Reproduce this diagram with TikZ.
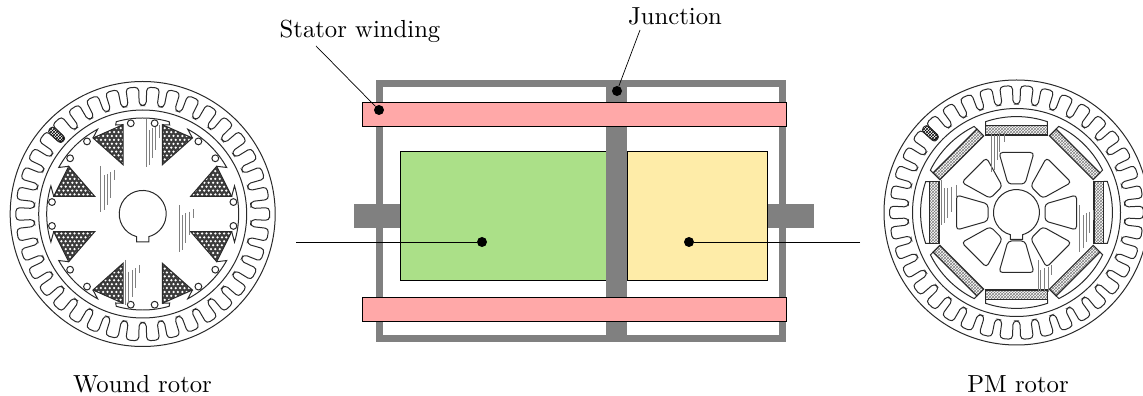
\documentclass[tikz,border=0pt]{standalone}
\usetikzlibrary{patterns}
\definecolor{framegray}{HTML}{808080}
\definecolor{windpink}{HTML}{FFA8A8}
\definecolor{woundgreen}{HTML}{ABE088}
\definecolor{pmyellow}{HTML}{FEECA8}
\definecolor{ink}{HTML}{2A2A2A}
\definecolor{copper}{HTML}{3C3C3C}
\tikzset{
  lbl/.style={scale=2.47,inner sep=0pt},
  bar/.style={fill=framegray,draw=none},
  boxed/.style={draw=black,line width=0.7pt},
  leader/.style={draw=black,line width=0.7pt},
  dotmark/.style={circle,fill=black,inner sep=0pt,minimum size=10pt},
  art/.style={draw=ink,line width=1pt},
  hatchline/.style={draw=gray,line width=1pt},
}
% stator ring shared by both rotors
\newcommand{\statorring}{%
  \draw[art] (0,0) circle (132.5);
  \draw[art] (0,0) circle (104);
  \draw[art,rounded corners=3.8pt] (-2.9:127)
    \foreach \k in {0,...,37}{
      -- ({\k*360/38+2.9}:127) -- ({\k*360/38+2.9}:108.5)
      -- ({(\k+1)*360/38-2.9}:108.5) -- ({(\k+1)*360/38-2.9}:127)
    } -- cycle;
  \begin{scope}[rotate=137.4]
    \draw[art,fill=gray!60,pattern=crosshatch,pattern color=black,rounded corners=3pt]
      (108,-3.8) rectangle (126,3.8);
  \end{scope}
}
\newcommand{\hatchgroup}[1]{%
  \foreach \hx/\hya/\hyb in {#1}{\draw[hatchline] (\hx,\hya) -- (\hx,\hyb);}
}
\begin{document}
\begin{tikzpicture}[x=1pt,y=1pt]
\useasboundingbox (0,0) rectangle (1143,396);
% ---------- centre machine (y = 396 - pixel row)
\fill[bar] (375.5,54) rectangle (786,316);
\fill[white] (382.5,61) rectangle (606,309);
\fill[white] (627,61) rectangle (779,309);
\fill[bar] (354,168) rectangle (401,192);
\fill[bar] (767,168) rectangle (814,192);
\draw[boxed,fill=woundgreen] (400.5,116) rectangle (606,244.5);
\draw[boxed,fill=pmyellow] (627,116) rectangle (767,244.5);
\fill[bar] (605.7,54) rectangle (627.4,316);
\draw[boxed,fill=windpink] (362.7,270) rectangle (786,293.5);
\draw[boxed,fill=windpink] (362.7,75) rectangle (786,99);
% ---------- labels and leaders
\node[lbl] (statorlabel) at (360,365) {Stator winding};
\node[lbl] (junctionlabel) at (675,380) {Junction};
\node[lbl] (woundlabel) at (142.5,11.5) {Wound rotor};
\node[lbl] (pmlabel) at (1018,11.5) {PM rotor};
\node[dotmark] (dstator) at (379,286) {};
\node[dotmark] (djunction) at (617,305) {};
\node[dotmark] (dwound) at (482,154) {};
\node[dotmark] (dpm) at (689,154) {};
\coordinate (fstator) at (316,350);
\coordinate (fjunction) at (640,366);
\coordinate (fwound) at (296,154);
\coordinate (fpm) at (860,154);
\draw[leader] (fstator) -- (dstator);
\draw[leader] (fjunction) -- (djunction);
\draw[leader] (fwound) -- (dwound);
\draw[leader] (fpm) -- (dpm);
% ---------- wound rotor
\begin{scope}[shift={(142.7,182)}]
  \statorring
  % winding slots: dark fill with a grid of small white dots
  \begin{scope}
    \clip \foreach \sx/\sy in {1/1,-1/1,1/-1,-1/-1}{
      (\sx*19.7,\sy*89.3) -- (\sx*49.7,\sy*76) -- (\sx*19.7,\sy*49.3) -- cycle
      (\sx*74,\sy*47.7) -- (\sx*89,\sy*17.7) -- (\sx*48,\sy*17.7) -- cycle
    };
    \fill[copper] (-100,-100) rectangle (100,100);
    \fill[white] \foreach \i in {-22,...,22}{\foreach \j in {-24,...,24}{
      ({(\i+0.5*mod(abs(\j),2))*4.4},{\j*3.9}) circle (1.25)}};
  \end{scope}
  \foreach \sx/\sy in {1/1,-1/1,1/-1,-1/-1}{
    \begin{scope}[xscale=\sx,yscale=\sy]
      \draw[art] (19.7,89.3) -- (49.7,76) -- (19.7,49.3) -- cycle;
      \draw[art] (74,47.7) -- (89,17.7) -- (48,17.7) -- cycle;
      \draw[art] (90:96) arc (90:74:96) -- (27,89) -- (19.7,89.3);
      \draw[art] (49.7,76) -- (62:96) arc (62:29:96) -- (74,47.7);
      \draw[art] (89,17.7) -- (17:96) arc (17:0:96);
    \end{scope}
  }
  \foreach \k in {0,45,...,315}{
    \draw[art,fill=white] ({\k+7.5}:91.5) circle (3.4);
    \draw[art,fill=white] ({\k-7.5}:91.5) circle (3.4);
  }
  % shaft with keyway
  \draw[art,fill=white] (-6.2,-22.6) arc (254.7:-74.7:23.5) -- (6.2,-28) -- (-6.2,-28) -- cycle;
\end{scope}
\begin{scope}[shift={(0,326)},x=0.3333pt,y=-0.3333pt]
  \hatchgroup{303/288/425,313/315/420,322/312/405,332/305/385,343/300/330,
    440/148/290,450/180/285,458/175/265,468/170/240,478/165/205,
    538/405/545,548/435/540,558/430/520,568/425/495,582/418/445,
    377/570/705,387/605/700,397/600/680,407/595/655,418/585/610}
\end{scope}
% ---------- PM rotor
\begin{scope}
\clip (860,0) rectangle (1143,396);
\begin{scope}[shift={(1016.5,183.5)}]
  \statorring
  \foreach \k in {0,45,...,315}{
    \begin{scope}[rotate=\k]
      \draw[art] (-31,87) -- (-31,90.8) arc (108.8:71.2:96) -- (31,87);
      \fill[white] (-31,77.5) rectangle (31,87);
      \fill[pattern=crosshatch,pattern color=gray] (-31,77.5) rectangle (31,87);
      \draw[draw=ink,line width=1.2pt] (-31,77.5) rectangle (31,87);
      \draw[art,rounded corners=3.5pt] (-17.5,60) -- (17.5,60) -- (8.5,28.5) -- (-8.5,28.5) -- cycle;
    \end{scope}
  }
  \draw[art,fill=white] (-6.2,-22.2) arc (254.5:-74.5:23) -- (6.2,-27) -- (-6.2,-27) -- cycle;
\end{scope}
\end{scope}
\begin{scope}[shift={(870,326)},x=0.3333pt,y=-0.3333pt]
  \hatchgroup{365/190/305,373/195/300,382/195/270,390/190/245,403/190/215,
    215/330/465,223/355/460,232/355/445,243/350/425,258/345/385,
    630/405/545,640/435/535,650/430/515,660/425/490,672/420/450,
    505/570/665,513/600/665,525/595/665,535/590/665,545/585/615}
\end{scope}
\end{tikzpicture}
\end{document}
